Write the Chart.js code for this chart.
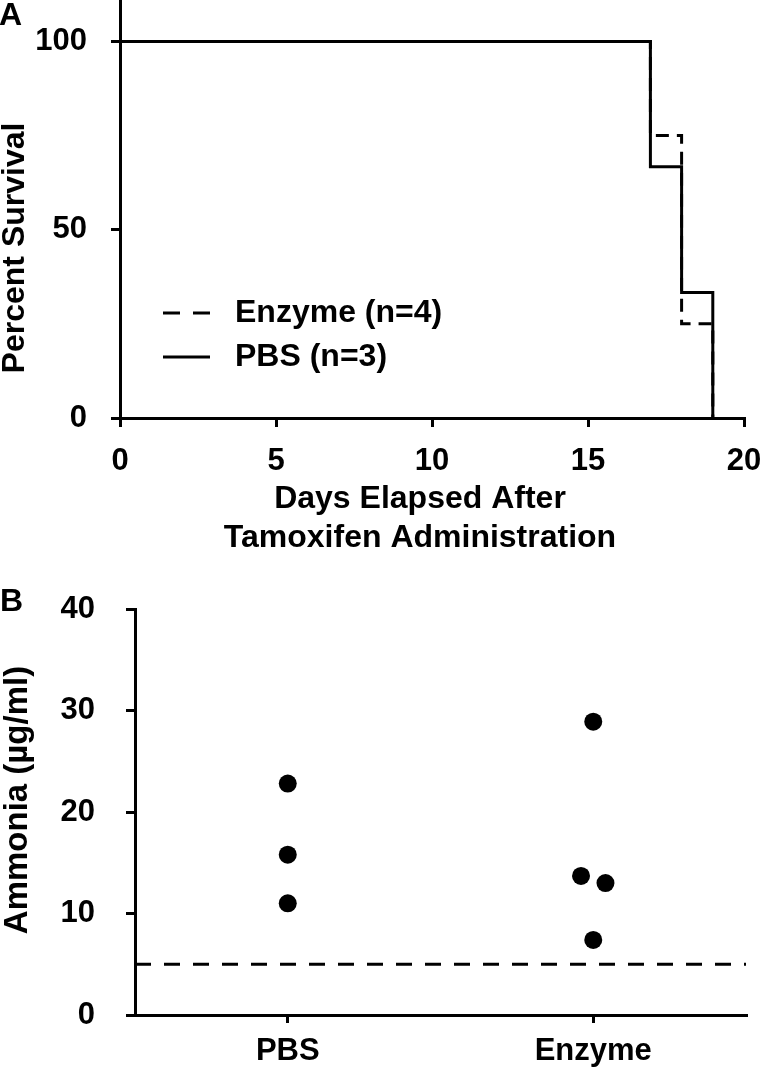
<!DOCTYPE html>
<html>
<head>
<meta charset="utf-8">
<script src="https://cdn.jsdelivr.net/npm/chart.js@4.4.1/dist/chart.umd.min.js"></script>
<style>
  body { margin: 0; background: #fff; }
  canvas { position: absolute; left: 0; }
  #survivalChart { top: 0; }
  #ammoniaChart { top: 560px; }
</style>
</head>
<body>
<canvas id="survivalChart" width="761" height="560"></canvas>
<canvas id="ammoniaChart" width="761" height="513"></canvas>
<script>
// Panel A - survival after tamoxifen
const dayTicks = [0, 5, 10, 15, 20];
const survivalTicks = [0, 50, 100];
const pbsDays = [0, 17, 17, 18, 18, 19, 19];
const pbsSurvival = [100, 100, 66.7, 66.7, 33.3, 33.3, 0];
const enzymeDays = [0, 17, 17, 18, 18, 19, 19];
const enzymeSurvival = [100, 100, 75, 75, 25, 25, 0];
const survivalLabels = ['PBS (n=3)', 'Enzyme (n=4)'];

// Panel B - plasma ammonia
const groups = ['PBS', 'Enzyme'];
const pbsAmmonia = [22.8, 15.8, 11.0];
const pbsJitter = [0, 0, 0];
const enzymeAmmonia = [28.9, 13.7, 13.0, 7.4];
const enzymeJitter = [0, -0.04, 0.04, 0];
const detectionLimit = 5;
const ammoniaTicks = [0, 10, 20, 30, 40];

const FONT = '"Liberation Sans", Arial, Helvetica, sans-serif';
Chart.defaults.font.family = FONT;
Chart.defaults.font.weight = 'bold';
Chart.defaults.color = '#000';

function toPoints(xs, ys) {
    return xs.map((x, i) => ({ x: x, y: ys[i] }));
}

function axisStyle(tickLength) {
    return {
        grid: { display: true, drawOnChartArea: false, drawTicks: true, tickLength: tickLength, color: '#000', lineWidth: 3 },
        border: { display: true, color: '#000', width: 3 }
    };
}

// draws panel letters, axis titles and the in-plot legend
const annotate = {
    id: 'annotate',
    afterDraw(chart, args, opts) {
        const ctx = chart.ctx;
        ctx.save();
        ctx.fillStyle = '#000';
        ctx.textBaseline = 'middle';
        (opts.texts || []).forEach(t => {
            ctx.save();
            ctx.font = `bold ${t.size}px ${FONT}`;
            ctx.textAlign = t.align || 'center';
            ctx.translate(t.x, t.y);
            if (t.rotate) ctx.rotate(t.rotate);
            ctx.fillText(t.text, 0, 0);
            ctx.restore();
        });
        if (opts.legend) {
            const lg = opts.legend;
            lg.order.forEach((dsIndex, row) => {
                const ds = chart.data.datasets[dsIndex];
                const y = lg.y + row * lg.rowGap;
                ctx.save();
                ctx.strokeStyle = ds.borderColor;
                ctx.lineWidth = ds.borderWidth;
                ctx.setLineDash(lg.dash[row]);
                ctx.beginPath();
                ctx.moveTo(lg.x, y);
                ctx.lineTo(lg.x + lg.sample, y);
                ctx.stroke();
                ctx.restore();
                ctx.font = `bold ${lg.size}px ${FONT}`;
                ctx.textAlign = 'left';
                ctx.fillText(ds.label, lg.textX, y);
            });
        }
        ctx.restore();
    }
};

// pin the axis box sizes so the plot area lands where the figure has it
function fixSize(width, height) {
    return function (scale) {
        if (width !== undefined) scale.width = width;
        if (height !== undefined) scale.height = height;
        scale.paddingTop = 0;
        scale.paddingBottom = 0;
        scale.paddingLeft = 0;
        scale.paddingRight = 0;
    };
}

new Chart(document.getElementById('survivalChart'), {
    type: 'line',
    data: {
        datasets: [{
            label: survivalLabels[0],
            data: toPoints(pbsDays, pbsSurvival),
            borderColor: '#000',
            borderWidth: 3,
            pointRadius: 0,
            tension: 0,
            fill: false
        }, {
            label: survivalLabels[1],
            data: toPoints(enzymeDays, enzymeSurvival),
            borderColor: '#000',
            borderWidth: 3,
            borderDash: [13, 8],
            pointRadius: 0,
            tension: 0,
            fill: false
        }]
    },
    options: {
        responsive: false,
        animation: false,
        borderJoinStyle: 'miter',
        layout: { padding: { top: 0, right: 17, left: 0, bottom: 0 } },
        scales: {
            x: Object.assign({
                type: 'linear',
                min: 0,
                max: 20,
                afterBuildTicks: scale => { scale.ticks = dayTicks.map(v => ({ value: v })); },
                afterFit: fixSize(undefined, 142),
                ticks: { font: { size: 31 }, padding: 16, maxRotation: 0 }
            }, axisStyle(9)),
            y: Object.assign({
                min: 0,
                max: 111,
                afterBuildTicks: scale => { scale.ticks = survivalTicks.map(v => ({ value: v })); },
                afterFit: fixSize(120),
                ticks: { font: { size: 31 }, padding: 24 }
            }, axisStyle(9))
        },
        plugins: {
            legend: { display: false },
            tooltip: { enabled: false },
            annotate: {
                texts: [
                    { text: 'A', x: -1, y: 16, size: 32, align: 'left' },
                    { text: 'Percent Survival', x: 15, y: 248, size: 32, rotate: -Math.PI / 2 },
                    { text: 'Days Elapsed After', x: 420, y: 499, size: 32 },
                    { text: 'Tamoxifen Administration', x: 420, y: 538, size: 32 }
                ],
                legend: { order: [1, 0], dash: [[17, 13], []], x: 163, sample: 47, textX: 235, y: 313, rowGap: 44, size: 32 }
            }
        }
    },
    plugins: [annotate]
});

new Chart(document.getElementById('ammoniaChart'), {
    type: 'scatter',
    data: {
        datasets: [{
            label: groups[0],
            data: toPoints(pbsJitter, pbsAmmonia),
            backgroundColor: '#000',
            borderWidth: 0,
            pointRadius: 9
        }, {
            label: groups[1],
            data: toPoints(enzymeJitter.map(j => 1 + j), enzymeAmmonia),
            backgroundColor: '#000',
            borderWidth: 0,
            pointRadius: 9
        }, {
            label: 'Detection limit',
            type: 'line',
            data: [{ x: -0.5, y: detectionLimit }, { x: 1.5, y: detectionLimit }],
            borderColor: '#000',
            borderWidth: 3,
            borderDash: [16, 13],
            pointRadius: 0,
            fill: false
        }]
    },
    options: {
        responsive: false,
        animation: false,
        layout: { padding: { top: 49, right: 15, left: 0, bottom: 0 } },
        scales: {
            x: Object.assign({
                type: 'linear',
                min: -0.5,
                max: 1.5,
                afterBuildTicks: scale => { scale.ticks = groups.map((g, i) => ({ value: i })); },
                afterFit: fixSize(undefined, 58),
                ticks: { font: { size: 31 }, padding: 10, maxRotation: 0, callback: v => groups[v] }
            }, axisStyle(8)),
            y: Object.assign({
                min: 0,
                max: 40,
                afterBuildTicks: scale => { scale.ticks = ammoniaTicks.map(v => ({ value: v })); },
                afterFit: fixSize(135),
                ticks: { font: { size: 31 }, padding: 31 }
            }, axisStyle(9))
        },
        plugins: {
            legend: { display: false },
            tooltip: { enabled: false },
            annotate: {
                texts: [
                    { text: 'B', x: 0, y: 42, size: 32, align: 'left' },
                    { text: 'Ammonia (µg/ml)', x: 18, y: 240, size: 33, rotate: -Math.PI / 2 }
                ]
            }
        }
    },
    plugins: [annotate]
});
</script>
</body>
</html>
